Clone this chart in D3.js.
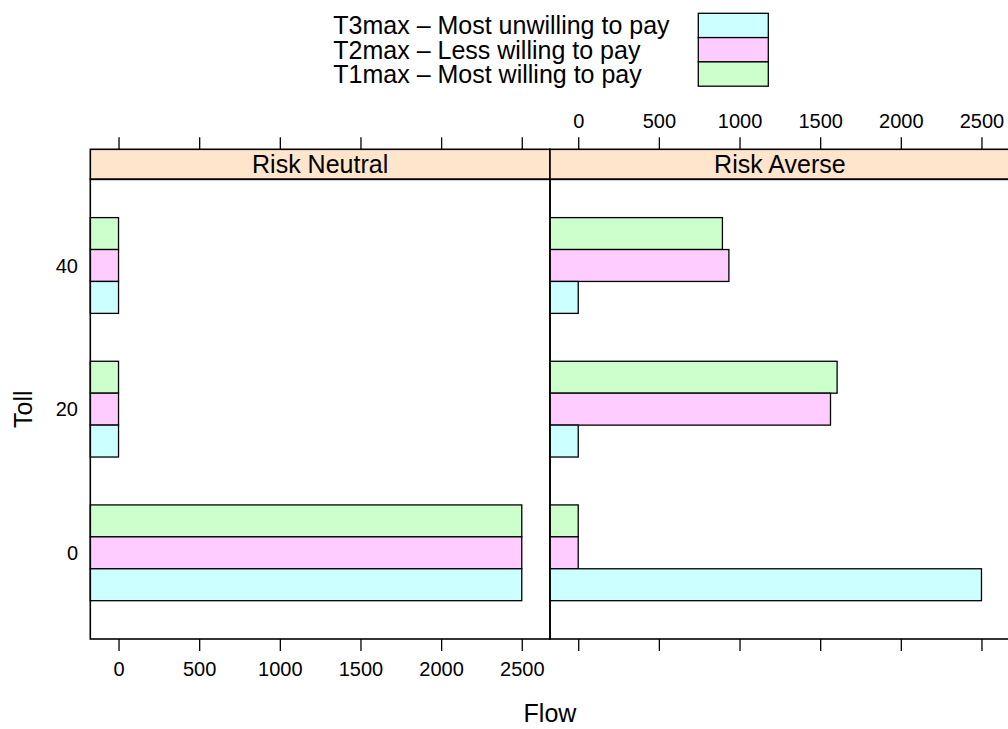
<!DOCTYPE html>
<html>
<head>
<meta charset="utf-8">
<script src="https://cdn.jsdelivr.net/npm/d3@7"></script>
<style>
  html, body { margin: 0; padding: 0; background: #fff; }
  svg { display: block; font-family: "Liberation Sans", Arial, Helvetica, sans-serif; }
</style>
</head>
<body>
<svg id="chart" width="1008" height="729"></svg>
<script>
// Toll levels (y categories), panels and series
const tollLevels = ["0", "20", "40"];
const panels = ["Risk Neutral", "Risk Averse"];
const seriesNames = ["T1max", "T2max", "T3max"];
const seriesLabels = ["T1max \u2013 Most willing to pay", "T2max \u2013 Less willing to pay", "T3max \u2013 Most unwilling to pay"];
const seriesColors = ["#CCFFCC", "#FFCCFF", "#CCFFFF"];

// Flow by toll level, one array per series and panel
const neutralT1 = [2500, 0, 0];
const neutralT2 = [2500, 0, 0];
const neutralT3 = [2500, 0, 0];
const averseT1 = [0, 1605, 894];
const averseT2 = [0, 1564, 934];
const averseT3 = [2500, 0, 0];

const flowTicks = [0, 500, 1000, 1500, 2000, 2500];
const flowLimits = [-175, 2675];

const panelValues = {
  "Risk Neutral": [neutralT1, neutralT2, neutralT3],
  "Risk Averse": [averseT1, averseT2, averseT3]
};

const svg = d3.select("#chart");
const font = 25, tickFont = 20;

const panelTop = 179.3, panelBottom = 639, stripTop = 149.3;
const panelLefts = [90.3, 550];
const panelW = 459.7;

// factor axis: levels 1..n spread over [0.4, n+0.6]
const y = d3.scaleLinear().domain([0.4, tollLevels.length + 0.6]).range([panelBottom, panelTop]);
const boxRatio = 2;
const groupH = (y(0) - y(1)) * boxRatio / (boxRatio + 1);
const barH = groupH / seriesNames.length;

panels.forEach((name, pi) => {
  const left = panelLefts[pi];
  const x = d3.scaleLinear().domain(flowLimits).range([left, left + panelW]);
  const g = svg.append("g");

  // bars: first series on top of each group, last series at the bottom
  const vals = panelValues[name];
  tollLevels.forEach((lev, li) => {
    const yc = y(li + 1);
    seriesNames.forEach((s, si) => {
      const v = vals[si][li];
      const yTop = yc - groupH / 2 + si * barH;
      g.append("rect")
        .attr("x", x(flowLimits[0]))
        .attr("y", yTop)
        .attr("width", x(v) - x(flowLimits[0]))
        .attr("height", barH)
        .attr("fill", seriesColors[si])
        .attr("stroke", "#000")
        .attr("stroke-width", 1.3);
    });
  });

  // strip
  g.append("rect")
    .attr("x", left).attr("y", stripTop)
    .attr("width", panelW).attr("height", panelTop - stripTop)
    .attr("fill", "#FFE5CC").attr("stroke", "#000").attr("stroke-width", 1.6);
  g.append("text")
    .attr("x", left + panelW / 2).attr("y", (stripTop + panelTop) / 2 + 0.716 * font / 2)
    .attr("text-anchor", "middle").attr("font-size", font).attr("fill", "#000")
    .text(name);

  // panel border
  g.append("rect")
    .attr("x", left).attr("y", panelTop)
    .attr("width", panelW).attr("height", panelBottom - panelTop)
    .attr("fill", "none").attr("stroke", "#000").attr("stroke-width", 1.6);

  // bottom axis (labels on first panel only)
  const bottom = svg.append("g").attr("transform", `translate(0,${panelBottom})`)
    .call(d3.axisBottom(x).tickValues(flowTicks).tickSize(12).tickPadding(11)
      .tickFormat(pi === 0 ? d3.format("d") : () => ""));
  // top axis (labels on second panel only)
  const top = svg.append("g").attr("transform", `translate(0,${stripTop})`)
    .call(d3.axisTop(x).tickValues(flowTicks).tickSize(12).tickPadding(9)
      .tickFormat(pi === 1 ? d3.format("d") : () => ""));
  [bottom, top].forEach(a => {
    a.select(".domain").remove();
    a.selectAll(".tick line").attr("stroke", "#000").attr("stroke-width", 1.3);
    a.selectAll(".tick text").attr("font-size", tickFont).attr("fill", "#000")
      .attr("font-family", "Liberation Sans, Arial, Helvetica, sans-serif");
  });
});

// y tick labels on the left
tollLevels.forEach((lev, li) => {
  svg.append("text")
    .attr("x", 78).attr("y", y(li + 1) + 0.716 * tickFont / 2)
    .attr("text-anchor", "end").attr("font-size", tickFont).attr("fill", "#000")
    .text(lev);
});

// axis titles
svg.append("text")
  .attr("x", 550).attr("y", 721.5)
  .attr("text-anchor", "middle").attr("font-size", font).attr("fill", "#000")
  .text("Flow");
svg.append("text")
  .attr("transform", `translate(31.5,${(panelTop + panelBottom) / 2}) rotate(-90)`)
  .attr("text-anchor", "middle").attr("font-size", font).attr("fill", "#000")
  .text("Toll");

// legend: last series listed first
const legendTop = 13.3, rowH = 24.3;
const legendOrder = [2, 1, 0];
legendOrder.forEach((si, r) => {
  const ry = legendTop + r * rowH;
  svg.append("text")
    .attr("x", 333.3).attr("y", ry + rowH / 2 + 0.716 * font / 2)
    .attr("font-size", font).attr("fill", "#000")
    .text(seriesLabels[si]);
  svg.append("rect")
    .attr("x", 698.3).attr("y", ry)
    .attr("width", 70).attr("height", rowH)
    .attr("fill", seriesColors[si]).attr("stroke", "#000").attr("stroke-width", 1.3);
});
</script>
</body>
</html>
